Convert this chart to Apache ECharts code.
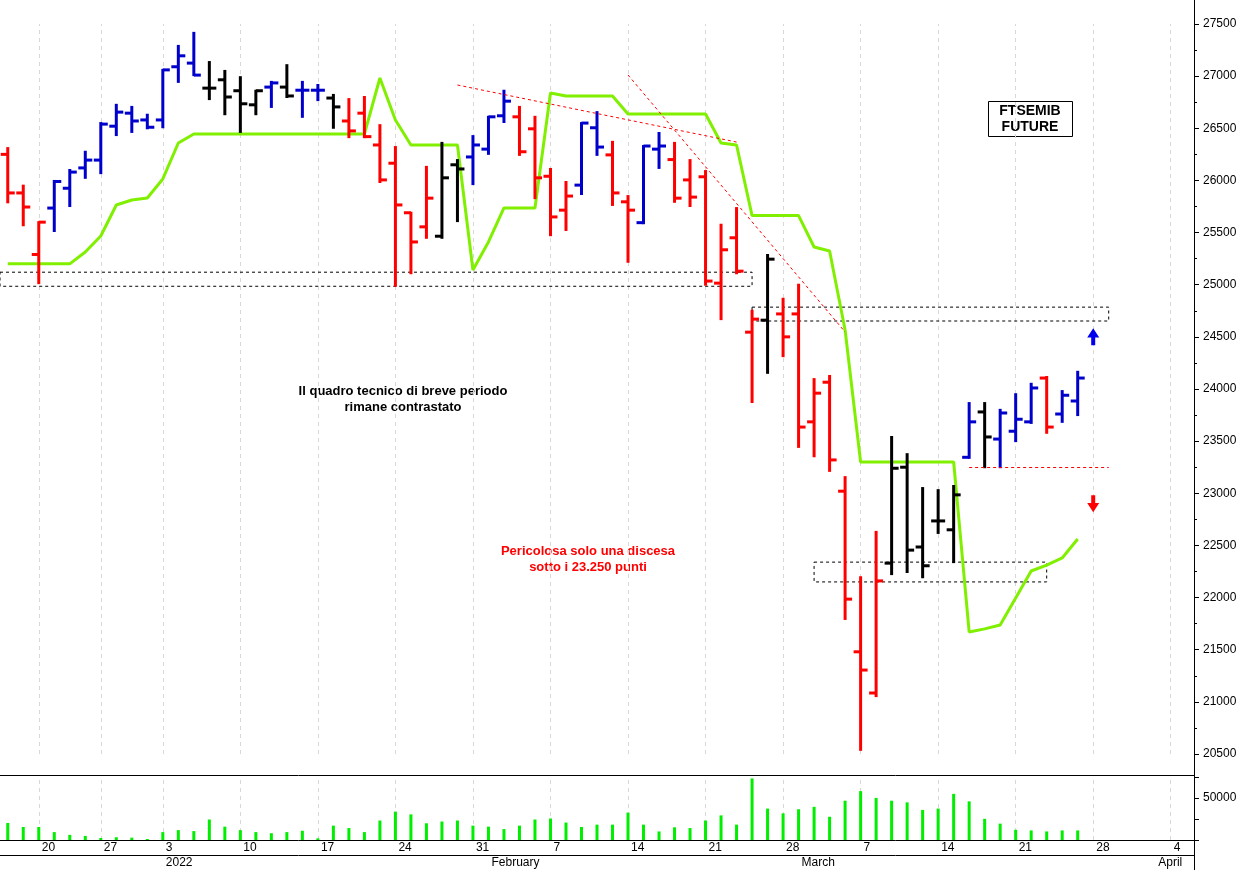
<!DOCTYPE html>
<html>
<head>
<meta charset="utf-8">
<script src="https://cdn.jsdelivr.net/npm/echarts@6/dist/echarts.min.js"></script>
<style>html,body{margin:0;padding:0;background:#fff}#chart{width:1247px;height:870px}</style>
</head>
<body>
<div id="chart"></div>
<script>
// trading days (holidays left out), last 7 are empty future days
var days = ['2021-12-16','2021-12-17','2021-12-20','2021-12-21','2021-12-22','2021-12-23',
  '2021-12-27','2021-12-28','2021-12-29','2021-12-30',
  '2022-01-03','2022-01-04','2022-01-05','2022-01-06','2022-01-07',
  '2022-01-10','2022-01-11','2022-01-12','2022-01-13','2022-01-14',
  '2022-01-17','2022-01-18','2022-01-19','2022-01-20','2022-01-21',
  '2022-01-24','2022-01-25','2022-01-26','2022-01-27','2022-01-28',
  '2022-01-31','2022-02-01','2022-02-02','2022-02-03','2022-02-04',
  '2022-02-07','2022-02-08','2022-02-09','2022-02-10','2022-02-11',
  '2022-02-14','2022-02-15','2022-02-16','2022-02-17','2022-02-18',
  '2022-02-21','2022-02-22','2022-02-23','2022-02-24','2022-02-25',
  '2022-02-28','2022-03-01','2022-03-02','2022-03-03','2022-03-04',
  '2022-03-07','2022-03-08','2022-03-09','2022-03-10','2022-03-11',
  '2022-03-14','2022-03-15','2022-03-16','2022-03-17','2022-03-18',
  '2022-03-21','2022-03-22','2022-03-23','2022-03-24','2022-03-25',
  '2022-03-28','2022-03-29','2022-03-30','2022-03-31','2022-04-01',
  '2022-04-04','2022-04-05'];

// open, high, low, close
var ohlc = [
  [26250,26310,25790,25880],[25880,25950,25570,25745],[25290,25600,25015,25600],
  [25735,25995,25515,25990],[25925,26100,25755,26080],[26120,26275,26025,26195],
  [26195,26550,26070,26540],[26520,26725,26435,26655],[26645,26705,26465,26570],
  [26580,26630,26500,26510],[26580,27060,26510,27060],[27090,27290,26945,27195],
  [27125,27415,27010,27010],[26885,27135,26780,26885],[26965,27050,26635,26800],
  [26860,26990,26465,26735],[26725,26860,26635,26860],[26895,26945,26705,26935],
  [26895,27105,26800,26810],[26865,26945,26610,26865],[26865,26915,26770,26865],
  [26790,26820,26505,26705],[26570,26780,26415,26475],[26645,26800,26415,26420],
  [26340,26530,25985,26005],[26165,26320,24990,25765],[25690,25690,25110,25410],
  [25555,26130,25450,25830],[25465,26360,25450,26025],[26150,26195,25610,26110],
  [26225,26425,25965,26340],[26300,26610,26255,26610],[26620,26860,26560,26760],
  [26610,26705,26245,26275],[26495,26610,25830,26025],[26040,26110,25475,25650],
  [25715,25985,25525,25850],[25955,26550,25870,26550],[26505,26655,26245,26320],
  [26245,26370,25765,25880],[25795,25850,25220,25715],[25595,26330,25590,26330],
  [26300,26455,26120,26330],[26200,26360,25795,25830],[26005,26195,25755,25840],
  [26035,26090,25000,25035],[25015,25575,24670,25335],[25450,25735,25110,25130],
  [24545,24750,23875,24670],[24660,25285,24155,25245],[24720,24865,24315,24500],
  [24720,25000,23445,23635],[23685,24095,23355,23960],[24065,24125,23215,23320],
  [23020,23155,21795,21985],[21480,22195,20540,21305],[21085,22630,21055,22160],
  [22330,23540,22225,23240],[23250,23375,22245,22455],[22485,23050,22195,22305],
  [22735,23030,22620,22735],[22650,23070,22340,22985],[23345,23865,23340,23685],
  [23780,23865,23250,23540],[23520,23800,23250,23770],[23595,23950,23500,23710],
  [23685,24050,23675,24010],[24105,24115,23580,23635],[23760,23980,23685,23940],
  [23885,24165,23750,24105]];

// bar colour state: r = red, b = blue, k = black
var barState = 'rrrbbbbbbbbbbkkkkbkbbkrrrrrrkkbbbrrrrbbrrbbrrrrrrkrrrrrrrkkkkkbkbbbrbb';

var stopLine = [25200,25200,25200,25200,25200,25314,25467,25764,25812,25831,26014,26359,
  26445,26445,26445,26445,26445,26445,26445,26445,26445,26445,26445,26445,26982,26580,
  26340,26340,26340,26340,25141,25410,25736,25736,25736,26838,26810,26810,26810,26810,
  26637,26637,26637,26637,26637,26637,26359,26340,25663,25663,25663,25663,25362,25323,
  24566,23300,23300,23300,23300,23300,23300,23300,21670,21700,21737,21996,22255,22312,
  22380,22562];

var volume = [20300,15500,15500,9400,6100,4900,2400,3300,2800,1200,9400,11800,10600,24400,
  15900,11800,9400,8100,9400,11000,2000,17100,14200,9400,23200,33800,30500,19900,22000,
  23200,17100,15900,13000,17100,24400,25600,20800,15500,18300,18300,32600,18300,10200,
  15100,14200,23200,29300,18300,73300,37400,31700,36600,39500,27700,46800,58200,50100,
  46800,44800,35800,37400,54900,46000,25200,19500,12200,11400,10200,11400,11400];

var monthStarts = {'2022-01-03':'2022','2022-02-01':'February','2022-03-01':'March','2022-04-01':'April'};
var supportLevel = 23250;

var colorOf = {r:'#ff0000', b:'#0000cc', k:'#000000'};
var isMonday = function (i) { return new Date(days[i] + 'T12:00:00').getDay() === 1; };
var mondayLines = days.filter(function (d, i) { return isMonday(i); }).map(function (d) { return {xAxis: d}; });

var chart = echarts.init(document.getElementById('chart'));

function renderOHLC(params, api) {
    var i = api.value(0);
    var o = api.coord([i, api.value(1)]);
    var h = api.coord([i, api.value(2)]);
    var l = api.coord([i, api.value(3)]);
    var c = api.coord([i, api.value(4)]);
    var st = {stroke: colorOf[barState[i]], lineWidth: 3};
    return {type: 'group', children: [
        {type: 'line', shape: {x1: h[0], y1: h[1] - 1, x2: l[0], y2: l[1] + 1}, style: st},
        {type: 'line', shape: {x1: o[0] - 7, y1: o[1], x2: o[0], y2: o[1]}, style: st},
        {type: 'line', shape: {x1: c[0], y1: c[1], x2: c[0] + 7, y2: c[1]}, style: st}
    ]};
}

var gridLine = {silent: true, symbol: 'none', label: {show: false}, z: 0,
    lineStyle: {color: '#d8d8d8', type: [4, 4], width: 1}, data: mondayLines};
var lab = {fontFamily: 'Liberation Sans', fontSize: 12, color: '#000'};

var option = {
    backgroundColor: '#fff',
    animation: false,
    grid: [
        {left: 0, right: 53, top: 24, height: 730},
        {left: 0, right: 53, top: 777, height: 63}
    ],
    xAxis: [
        {type: 'category', data: days, gridIndex: 0, show: false},
        {type: 'category', data: days, gridIndex: 1,
         axisLine: {lineStyle: {color: '#000'}},
         axisTick: {alignWithLabel: true, length: 15, lineStyle: {color: '#000'},
                    interval: function (i) { return isMonday(i); }},
         axisLabel: Object.assign({interval: function (i) { return isMonday(i); },
                    align: 'left', margin: 2, padding: [0, 0, 0, 3],
                    formatter: function (v) { return String(+v.slice(8)); }}, lab)},
        {type: 'category', data: days, gridIndex: 1, position: 'bottom', offset: 15,
         axisLine: {show: false},
         axisTick: {alignWithLabel: true, length: 15, lineStyle: {color: '#000'},
                    interval: function (i) { return !!monthStarts[days[i]]; }},
         axisLabel: Object.assign({interval: function (i) { return !!monthStarts[days[i]]; },
                    align: 'left', margin: 2, padding: [0, 0, 0, 3],
                    formatter: function (v) { return monthStarts[v] || ''; }}, lab)}
    ],
    yAxis: [
        {type: 'value', gridIndex: 0, position: 'right', min: 20500, max: 27500, interval: 500,
         splitLine: {show: false},
         axisLine: {show: true, lineStyle: {color: '#000'}},
         axisTick: {show: true, length: 5, lineStyle: {color: '#000'}},
         minorTick: {show: true, splitNumber: 2, length: 3, lineStyle: {color: '#000'}},
         axisLabel: Object.assign({margin: 9, formatter: function (v) { return String(v); }}, lab)},
        {type: 'value', gridIndex: 1, position: 'right', min: 0, max: 75000, interval: 25000,
         splitLine: {show: false},
         axisLine: {show: true, lineStyle: {color: '#000'}},
         axisTick: {show: true, length: 5, lineStyle: {color: '#000'}},
         axisLabel: Object.assign({margin: 9, formatter: function (v) { return v === 50000 ? '50000' : ''; }}, lab)}
    ],
    series: [
        {type: 'line', xAxisIndex: 0, yAxisIndex: 0, data: [], z: 0, markLine: gridLine},
        {type: 'line', xAxisIndex: 0, yAxisIndex: 0, data: stopLine, symbol: 'none',
         lineStyle: {color: '#80f000', width: 3}, z: 2},
        {type: 'custom', xAxisIndex: 0, yAxisIndex: 0, renderItem: renderOHLC, z: 3,
         encode: {x: 0, y: [1, 2, 3, 4]},
         data: ohlc.map(function (d, i) { return [i].concat(d); }),
         markArea: {silent: true,
            itemStyle: {color: 'rgba(0,0,0,0)', borderColor: '#000', borderWidth: 1, borderType: [3, 3]},
            data: [
                [{coord: [0, 25120], x: 0}, {coord: [days[48], 24985]}],
                [{coord: [days[48], 24785]}, {coord: [days[71], 24652]}],
                [{coord: [days[52], 22340]}, {coord: [days[67], 22150]}]
            ]},
         markLine: {silent: true, symbol: 'none', label: {show: false},
            lineStyle: {color: '#ff0000', type: [3, 3], width: 1},
            data: [
                [{coord: [days[29], 26915]}, {coord: [days[47], 26368]}],
                [{coord: [days[40], 27011]}, {coord: [days[54], 24547]}],
                [{coord: [days[62], supportLevel]}, {coord: [days[71], supportLevel]}]
            ]},
         markPoint: {silent: true, label: {show: false},
            symbol: 'path://M6,0 L12,7 L8,7 L8,13 L4,13 L4,7 L0,7 Z',
            data: [
                {coord: [days[70], 24500], symbolSize: [12, 17], itemStyle: {color: '#0000ee'}},
                {coord: [days[70], 22900], symbolSize: [12, 17], symbolRotate: 180, itemStyle: {color: '#ff0000'}}
            ]}},
        {type: 'bar', xAxisIndex: 1, yAxisIndex: 1, data: volume, barWidth: 3, z: 3,
         itemStyle: {color: '#00ee00'}},
        {type: 'line', xAxisIndex: 1, yAxisIndex: 1, data: [], z: 0, markLine: gridLine}
    ],
    graphic: [
        {type: 'line', shape: {x1: 0, y1: 775.5, x2: 1194, y2: 775.5}, style: {stroke: '#000', lineWidth: 1}},
        {type: 'line', shape: {x1: 0, y1: 855.5, x2: 1194, y2: 855.5}, style: {stroke: '#000', lineWidth: 1}},
        {type: 'line', shape: {x1: 1194.5, y1: 0, x2: 1194.5, y2: 870}, style: {stroke: '#000', lineWidth: 1}},
        {type: 'text', x: 403, y: 383, style: {text: 'Il quadro tecnico di breve periodo\nrimane contrastato',
            align: 'center', font: 'bold 13px "Liberation Sans"', fill: '#000', lineHeight: 16}},
        {type: 'text', x: 588, y: 543, style: {text: 'Pericolosa solo una discesa\nsotto i 23.250 punti',
            align: 'center', font: 'bold 13px "Liberation Sans"', fill: '#ff0000', lineHeight: 16}},
        {type: 'rect', shape: {x: 988.5, y: 101.5, width: 84, height: 35}, style: {fill: '#fff', stroke: '#000', lineWidth: 1}},
        {type: 'text', x: 1030, y: 103, style: {text: 'FTSEMIB\nFUTURE', align: 'center',
            font: 'bold 14px "Liberation Sans"', fill: '#000', lineHeight: 16}}
    ]
};
chart.setOption(option);
</script>
</body>
</html>
